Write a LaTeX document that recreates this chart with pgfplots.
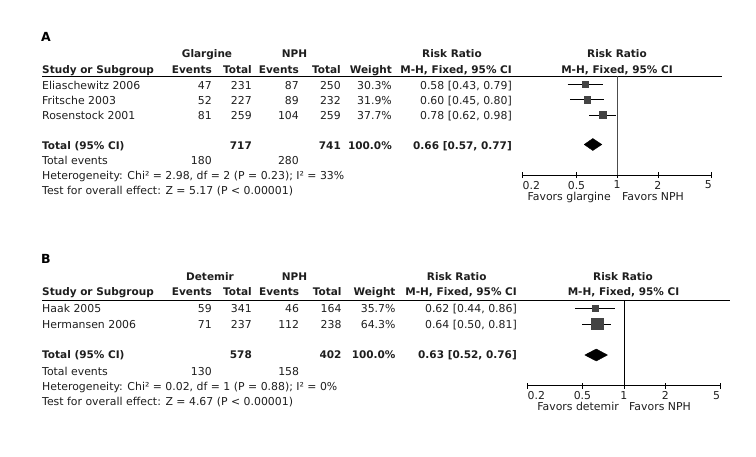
\documentclass[border=0pt]{standalone}
\usepackage{pgfplots}
\pgfplotsset{compat=1.18}
\usepackage{fontspec}
\setmainfont{DejaVu Sans}
\definecolor{sq}{RGB}{68,68,68}
\definecolor{txt}{RGB}{30,30,30}
\newcommand\fs{\fontsize{10.9bp}{12bp}\selectfont}
\newcommand\fb{\fontsize{10.5bp}{12bp}\selectfont\bfseries}
\newcommand\T[4]{\node[anchor=#1, inner sep=0pt, font=\fs, text=txt] at (#2bp,-#3bp) {#4};}
\newcommand\B[4]{\node[anchor=#1, inner sep=0pt, font=\fb, text=txt] at (#2bp,-#3bp) {#4};}
\pgfplotsset{myforest/.style={scale only axis, xmin=0.2, xmax=5, y dir=reverse,
  axis x line*=bottom, axis y line=none,
  xtick={0.2,0.5,1,2,5}, xticklabels={\makebox[0pt][l]{0.2},0.5,1,2,\makebox[0pt][r]{5}},
  minor xtick={}, tick align=center, major tick length=6bp,
  tick style={black, line width=0.6pt}, x axis line style={line width=0.6pt},
  xticklabel style={font=\fs, text=txt, yshift=0.5bp}, clip=false, anchor=south west}}
\begin{document}
\begin{tikzpicture}
\useasboundingbox (0,0) rectangle (756bp,-457bp);
% ---------------- Panel A ----------------
\node[anchor=base west, inner sep=0pt, font=\fontsize{12.5bp}{14bp}\selectfont\bfseries] at (41bp,-41bp) {A};
\B{base}{207}{57.5}{Glargine}
\B{base}{294.5}{57.5}{NPH}
\B{base}{452}{57.5}{Risk Ratio}
\B{base}{617}{57.5}{Risk Ratio}
\B{base west}{42}{73}{Study or Subgroup}
\B{base east}{212}{73}{Events}
\B{base east}{252}{73}{Total}
\B{base east}{299}{73}{Events}
\B{base east}{341}{73}{Total}
\B{base east}{392}{73}{Weight}
\B{base east}{512}{73}{M-H, Fixed, 95\% CI}
\B{base}{617}{73}{M-H, Fixed, 95\% CI}
\draw[line width=0.8pt, black] (42bp,-76bp) -- (722bp,-76bp);
% rows
\T{base west}{42}{89}{Eliaschewitz 2006}
\T{base east}{212}{89}{47}\T{base east}{252}{89}{231}\T{base east}{299}{89}{87}\T{base east}{341}{89}{250}
\T{base east}{392}{89}{30.3\%}\T{base east}{512}{89}{0.58 [0.43, 0.79]}
\T{base west}{42}{104}{Fritsche 2003}
\T{base east}{212}{104}{52}\T{base east}{252}{104}{227}\T{base east}{299}{104}{89}\T{base east}{341}{104}{232}
\T{base east}{392}{104}{31.9\%}\T{base east}{512}{104}{0.60 [0.45, 0.80]}
\T{base west}{42}{119.5}{Rosenstock 2001}
\T{base east}{212}{119.5}{81}\T{base east}{252}{119.5}{259}\T{base east}{299}{119.5}{104}\T{base east}{341}{119.5}{259}
\T{base east}{392}{119.5}{37.7\%}\T{base east}{512}{119.5}{0.78 [0.62, 0.98]}
\B{base west}{42}{149}{Total (95\% CI)}
\B{base east}{252}{149}{717}\B{base east}{341}{149}{741}\B{base east}{392}{149}{100.0\%}\B{base east}{512}{149}{0.66 [0.57, 0.77]}
\T{base west}{42}{164.5}{Total events}
\T{base east}{212}{164.5}{180}\T{base east}{299}{164.5}{280}
\T{base west}{42}{179.5}{Heterogeneity: Chi² = 2.98, df = 2 (P = 0.23); I² = 33\%}
\T{base west}{42}{194}{Test for overall effect: Z = 5.17 (P < 0.00001)}
\T{base east}{611}{200}{Favors glargine}
\T{base west}{622}{200}{Favors NPH}
\begin{axis}[xmode=log, myforest, at={(522.7bp,-175bp)}, width=189bp, height=99bp, ymin=76, ymax=175]
\addplot[black!70, line width=0.7pt] coordinates {(1,76) (1,175)};
\addplot[black, line width=0.6pt] coordinates {(0.43,84.5) (0.79,84.5)};
\addplot[black, line width=0.6pt] coordinates {(0.45,99.5) (0.80,99.5)};
\addplot[black, line width=0.6pt] coordinates {(0.62,115) (0.98,115)};
\addplot[only marks, mark=square*, mark size=3.15bp, mark options={draw=sq, fill=sq}] coordinates {(0.58,84.5)};
\addplot[only marks, mark=square*, mark size=3.35bp, mark options={draw=sq, fill=sq}] coordinates {(0.60,99.5)};
\addplot[only marks, mark=square*, mark size=3.65bp, mark options={draw=sq, fill=sq}] coordinates {(0.78,115)};
\addplot[fill=black, draw=black] coordinates {(0.57,144.5) (0.66,138.5) (0.77,144.5) (0.66,150.5) (0.57,144.5)};
\end{axis}
% ---------------- Panel B ----------------
\node[anchor=base west, inner sep=0pt, font=\fontsize{12.5bp}{14bp}\selectfont\bfseries] at (41bp,-263bp) {B};
\B{base}{210}{280}{Detemir}
\B{base}{294.5}{280}{NPH}
\B{base}{456.7}{280}{Risk Ratio}
\B{base}{623}{280}{Risk Ratio}
\B{base west}{42}{295.7}{Study or Subgroup}
\B{base east}{212}{295.7}{Events}
\B{base east}{252}{295.7}{Total}
\B{base east}{299.3}{295.7}{Events}
\B{base east}{341.7}{295.7}{Total}
\B{base east}{395.7}{295.7}{Weight}
\B{base east}{517}{295.7}{M-H, Fixed, 95\% CI}
\B{base}{623.5}{295.7}{M-H, Fixed, 95\% CI}
\draw[line width=0.8pt, black] (42bp,-300bp) -- (730bp,-300bp);
\T{base west}{42}{312.3}{Haak 2005}
\T{base east}{212}{312.3}{59}\T{base east}{252}{312.3}{341}\T{base east}{299.3}{312.3}{46}\T{base east}{341.7}{312.3}{164}
\T{base east}{395.7}{312.3}{35.7\%}\T{base east}{517}{312.3}{0.62 [0.44, 0.86]}
\T{base west}{42}{328.5}{Hermansen 2006}
\T{base east}{212}{328.5}{71}\T{base east}{252}{328.5}{237}\T{base east}{299.3}{328.5}{112}\T{base east}{341.7}{328.5}{238}
\T{base east}{395.7}{328.5}{64.3\%}\T{base east}{517}{328.5}{0.64 [0.50, 0.81]}
\B{base west}{42}{358}{Total (95\% CI)}
\B{base east}{252}{358}{578}\B{base east}{341.7}{358}{402}\B{base east}{395.7}{358}{100.0\%}\B{base east}{517}{358}{0.63 [0.52, 0.76]}
\T{base west}{42}{375.7}{Total events}
\T{base east}{212}{375.7}{130}\T{base east}{299.3}{375.7}{158}
\T{base west}{42}{390.7}{Heterogeneity: Chi² = 0.02, df = 1 (P = 0.88); I² = 0\%}
\T{base west}{42}{405.7}{Test for overall effect: Z = 4.67 (P < 0.00001)}
\T{base east}{619}{410}{Favors detemir}
\T{base west}{629}{410}{Favors NPH}
\begin{axis}[xmode=log, myforest, at={(527.7bp,-385.7bp)}, width=192.3bp, height=85.7bp, ymin=300, ymax=385.7]
\addplot[black, line width=0.7pt] coordinates {(1,300) (1,385.7)};
\addplot[black, line width=0.6pt] coordinates {(0.44,308.3) (0.86,308.3)};
\addplot[black, line width=0.6pt] coordinates {(0.50,323.8) (0.81,323.8)};
\addplot[only marks, mark=square*, mark size=3.35bp, mark options={draw=sq, fill=sq}] coordinates {(0.62,308.3)};
\addplot[only marks, mark=square*, mark size=5.8bp, mark options={draw=sq, fill=sq}] coordinates {(0.64,323.8)};
\addplot[fill=black, draw=black] coordinates {(0.52,355) (0.63,349) (0.76,355) (0.63,361) (0.52,355)};
\end{axis}
\end{tikzpicture}
\end{document}
